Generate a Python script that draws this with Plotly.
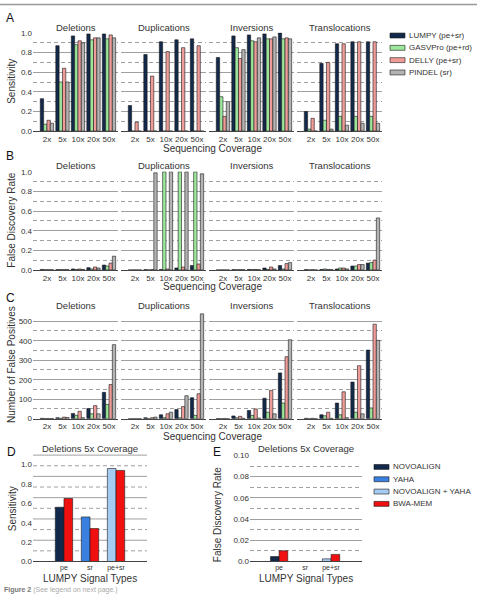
import plotly.graph_objects as go

W, H = 477, 599

coverage = ["2x", "5x", "10x", "20x", "50x"]
sv_types = ["Deletions", "Duplications", "Inversions", "Translocations"]
tools = ["LUMPY (pe+sr)", "GASVPro (pe+rd)", "DELLY (pe+sr)", "PINDEL (sr)"]
tool_colors = ["#13294b", "#9de89d", "#ef9c98", "#b3b3b3"]

# Panel A: sensitivity  [Deletions, Duplications, Inversions, Translocations] x coverage
sens_lumpy = [[0.33, 0.87, 0.97, 0.99, 0.99], [0.26, 0.78, 0.91, 0.93, 0.94],
              [0.75, 0.97, 0.98, 0.99, 1.00], [0.20, 0.69, 0.89, 0.91, 0.91]]
sens_gasv = [[0.07, 0.50, 0.88, 0.93, 0.94], [0.0, 0.0, 0.0, 0.0, 0.0],
             [0.35, 0.85, 0.92, 0.94, 0.94], [0.02, 0.11, 0.15, 0.15, 0.15]]
sens_delly = [[0.11, 0.64, 0.92, 0.95, 0.98], [0.09, 0.56, 0.81, 0.85, 0.87],
              [0.15, 0.74, 0.91, 0.94, 0.95], [0.13, 0.70, 0.89, 0.91, 0.91]]
sens_pindel = [[0.08, 0.50, 0.90, 0.95, 0.95], [0.0, 0.0, 0.0, 0.0, 0.0],
               [0.30, 0.83, 0.95, 0.96, 0.94], [0.0, 0.02, 0.06, 0.08, 0.08]]

# Panel B: false discovery rate
fdr_lumpy = [[0.005, 0.003, 0.010, 0.023, 0.050], [0.0, 0.003, 0.005, 0.020, 0.045],
             [0.0, 0.003, 0.005, 0.020, 0.045], [0.003, 0.005, 0.010, 0.040, 0.070]]
fdr_gasv = [[0.002, 0.003, 0.005, 0.010, 0.040], [0.0, 0.0, 1.0, 1.0, 1.0],
            [0.0, 0.002, 0.003, 0.005, 0.010], [0.0, 0.010, 0.020, 0.040, 0.075]]
fdr_delly = [[0.002, 0.003, 0.010, 0.030, 0.070], [0.0, 0.003, 0.010, 0.030, 0.060],
             [0.0, 0.003, 0.005, 0.030, 0.065], [0.002, 0.005, 0.020, 0.055, 0.100]]
fdr_pindel = [[0.002, 0.003, 0.005, 0.020, 0.140], [0.0, 0.99, 1.0, 1.0, 0.98],
              [0.0, 0.002, 0.003, 0.010, 0.075], [0.0, 0.003, 0.010, 0.055, 0.530]]

# Panel C: number of false positives
fp_lumpy = [[2, 5, 27, 52, 135], [0, 5, 20, 47, 108],
            [1, 14, 42, 105, 235], [2, 20, 80, 188, 352]]
fp_gasv = [[1, 2, 17, 25, 73], [0, 0, 5, 5, 17],
           [0, 5, 17, 33, 80], [0, 15, 20, 33, 55]]
fp_delly = [[1, 8, 38, 67, 175], [0, 5, 25, 62, 128],
            [1, 12, 50, 145, 318], [2, 33, 138, 272, 485]]
fp_pindel = [[1, 6, 5, 25, 380], [0, 8, 33, 118, 538],
             [0, 2, 3, 25, 405], [0, 2, 5, 25, 402]]

# Panels D/E: LUMPY signal types at 5x, deletions
signal_types = ["pe", "sr", "pe+sr"]
aligners = ["NOVOALIGN", "YAHA", "NOVOALIGN + YAHA", "BWA-MEM"]
aligner_colors = ["#13294b", "#3a80e0", "#a6cbf3", "#f01010"]
d_novoalign = [0.56]
d_yaha = [0.46]
d_novo_yaha = [0.96]
d_bwa = [0.65, 0.34, 0.94]
e_novoalign = [0.0046]
e_yaha = [0.0]
e_novo_yaha = [0.0025]
e_bwa = [0.0101, 0.0, 0.0067]

a_ticks = [0, 0.2, 0.4, 0.6, 0.8, 1.0]
a_ticktext = ["0.0", "0.2", "0.4", "0.6", "0.8", "1.0"]
c_ticks = [0, 100, 200, 300, 400, 500]
e_ticks = [0, 0.02, 0.04, 0.06, 0.08, 0.10]
e_ticktext = ["0.0", "0.02", "0.04", "0.06", "0.08", "0.10"]

FONT = "Liberation Sans, Arial, sans-serif"
TXT = "#333333"
GRID = "#a0a0a0"


def px(x):
    return x / W


def py(y):
    return 1 - y / H


def ann(text, x, y, size, xanchor="center", **kw):
    d = dict(text=text, x=px(x), y=py(y), xref="paper", yref="paper", showarrow=False,
             xanchor=xanchor, yanchor="middle",
             font=dict(size=size, color=kw.pop("color", TXT), family=FONT))
    d.update(kw)
    return d


fig = go.Figure()
layout = {}
annotations = []
shapes = []

facet_x = [(33, 118), (121, 206), (209, 294), (297, 382)]
rows = [
    dict(top=29, bot=129, data=[sens_lumpy, sens_gasv, sens_delly, sens_pindel],
         rng=[0, 1.004], ticks=a_ticks, text=a_ticktext, dt=0.1, title="Sensitivity",
         strip=24, xtitle=147),
    dict(top=170, bot=270, data=[fdr_lumpy, fdr_gasv, fdr_delly, fdr_pindel],
         rng=[0, 1.004], ticks=a_ticks, text=a_ticktext, dt=0.1, title="False Discovery Rate",
         strip=164, xtitle=287),
    dict(top=312, bot=421, data=[fp_lumpy, fp_gasv, fp_delly, fp_pindel],
         rng=[0, 551], ticks=c_ticks, text=[str(v) for v in c_ticks], dt=50,
         title="Number of False Positives", strip=306, xtitle=439),
]

n = 0
for r, row in enumerate(rows):
    for f, (x0, x1) in enumerate(facet_x):
        n += 1
        xa = "x" if n == 1 else f"x{n}"
        ya = "y" if n == 1 else f"y{n}"
        for t in range(4):
            fig.add_trace(go.Bar(
                x=coverage, y=row["data"][t][f], name=tools[t], xaxis=xa, yaxis=ya,
                marker=dict(color=tool_colors[t], line=dict(color="#1a1a1a", width=0.6)),
                showlegend=False))
        layout["xaxis" if n == 1 else f"xaxis{n}"] = dict(
            domain=[px(x0), px(x1)], anchor=ya, type="category",
            categoryorder="array", categoryarray=coverage, range=[-0.9, 4.58],
            showgrid=False, showline=True, linecolor="#444", linewidth=1,
            ticks="", tickfont=dict(size=8, color=TXT, family=FONT), fixedrange=True)
        layout["yaxis" if n == 1 else f"yaxis{n}"] = dict(
            domain=[py(row["bot"]), py(row["top"])], anchor=xa, range=row["rng"],
            tickvals=row["ticks"], ticktext=row["text"], showticklabels=(f == 0),
            showgrid=True, gridcolor=GRID, gridwidth=1, zeroline=False, ticks="",
            minor=dict(dtick=row["dt"], showgrid=True, gridcolor=GRID, griddash="4px,3px",
                       gridwidth=1),
            tickfont=dict(size=8, color=TXT, family=FONT), fixedrange=True)
        annotations.append(ann(sv_types[f], (x0 + x1) / 2, row["strip"], 9.5))
    annotations.append(ann(row["title"], 12, (row["top"] + row["bot"]) / 2, 10,
                           textangle=-90))
    annotations.append(ann("Sequencing Coverage", 212, row["xtitle"], 10))

# Panels D and E
de = [
    dict(x0=33, x1=147, rng=[-1.19, 3.19], data=[d_novoalign, d_yaha, d_novo_yaha, d_bwa],
         yr=[0, 1.098], ticks=a_ticks, text=a_ticktext, title="Sensitivity", tx=12, ty=513),
    dict(x0=250, x1=362, rng=[-1.12, 3.19], data=[e_novoalign, e_yaha, e_novo_yaha, e_bwa],
         yr=[0, 0.1003], ticks=e_ticks, text=e_ticktext, title="False Discovery Rate", tx=217,
         ty=519),
]
de_x = [[signal_types[0]], [signal_types[1]], [signal_types[2]], signal_types]
for k, p in enumerate(de):
    n += 1
    xa, ya = f"x{n}", f"y{n}"
    for t in range(4):
        fig.add_trace(go.Bar(
            x=de_x[t], y=p["data"][t], name=aligners[t], xaxis=xa, yaxis=ya,
            width=0.333, offset=(0 if t == 3 else -0.333),
            marker=dict(color=aligner_colors[t], line=dict(color="#1a1a1a", width=0.6)),
            showlegend=False))
    layout[f"xaxis{n}"] = dict(
        domain=[px(p["x0"]), px(p["x1"])], anchor=ya, type="category",
        categoryorder="array", categoryarray=signal_types, range=p["rng"],
        showgrid=False, showline=True, linecolor="#444", linewidth=1, ticks="",
        ticklabelstandoff=-1,
        tickfont=dict(size=7, color=TXT, family=FONT), fixedrange=True)
    yd = dict(domain=[py(566), py(458)], anchor=xa, range=p["yr"], tickvals=p["ticks"],
              ticktext=p["text"], zeroline=False, ticks="",
              tickfont=dict(size=8, color=TXT, family=FONT), fixedrange=True)
    if k == 1:
        yd.update(showgrid=True, gridcolor=GRID, gridwidth=1,
                  minor=dict(dtick=0.01, showgrid=True, gridcolor=GRID,
                             griddash="4px,3px", gridwidth=1))
    else:
        yd.update(showgrid=False)
        for g in range(1, 11):
            shapes.append(dict(type="line", xref=f"{xa} domain", yref=f"{ya} domain",
                               x0=0, x1=1, y0=g / 10, y1=g / 10, layer="below",
                               line=dict(color=GRID, width=1,
                                         dash=("4px,3px" if g % 2 else "solid"))))
    layout[f"yaxis{n}"] = yd
    cx = (p["x0"] + p["x1"]) / 2
    annotations.append(ann("Deletions 5x Coverage", cx, 451, 9.5))
    annotations.append(ann(p["title"], p["tx"], p["ty"], 10, textangle=-90))
    annotations.append(ann("LUMPY Signal Types", cx, 583, 10))

# Panel letters
for letter, lx, ly in [("A", 10, 14), ("B", 10, 154), ("C", 10, 298), ("D", 11, 455),
                       ("E", 217, 455)]:
    annotations.append(ann(letter, lx, ly, 12, color="#111"))


# Custom legends
def legend(names, colors, sx, ys, tx):
    for nm, c, yy in zip(names, colors, ys):
        shapes.append(dict(type="rect", xref="paper", yref="paper", x0=px(sx), x1=px(sx + 15),
                           y0=py(yy + 2.5), y1=py(yy - 2.5), fillcolor=c,
                           line=dict(color="#1a1a1a", width=0.6)))
        annotations.append(ann(nm, tx, yy, 8, xanchor="left"))


legend(tools, tool_colors, 390, [32, 44.5, 57, 69.5], 407)
legend(aligners, aligner_colors, 374, [470, 482.5, 495, 507.5], 391)

# Caption
annotations.append(ann("<b>Figure 2</b> <span style='color:#aaaaaa'>(See legend on next page.)</span>",
                       2, 595, 7, xanchor="left", color="#777777"))

# Top border
shapes.append(dict(type="line", xref="paper", yref="paper", x0=0, x1=1, y0=py(0.6), y1=py(0.6),
                   line=dict(color="#999999", width=1.5)))

fig.update_layout(
    width=W, height=H, margin=dict(l=0, r=0, t=0, b=0),
    paper_bgcolor="white", plot_bgcolor="white",
    barmode="group", bargap=0.14, bargroupgap=0,
    showlegend=False, annotations=annotations, shapes=shapes,
    font=dict(family=FONT, color=TXT), **layout)

fig.write_html("out.html")
